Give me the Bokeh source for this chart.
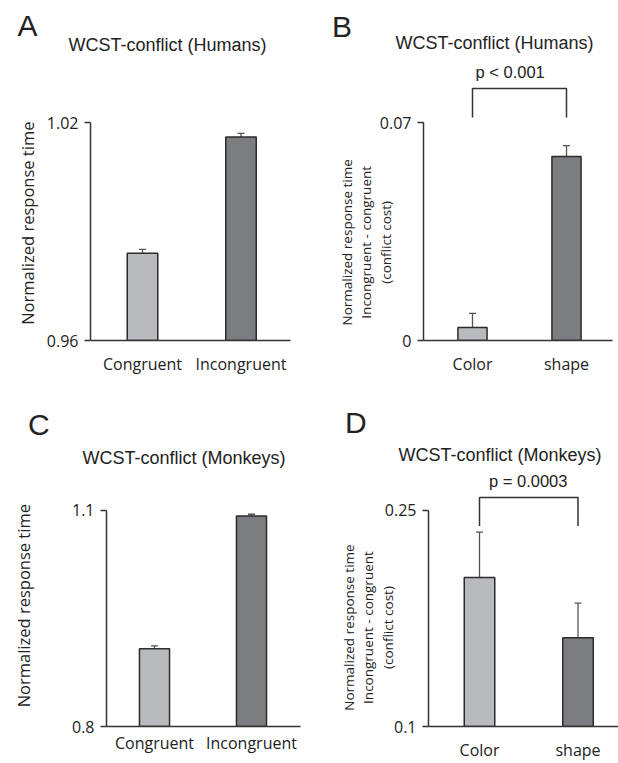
from bokeh.plotting import figure
from bokeh.layouts import row, column
from bokeh.models import Range1d, FixedTicker, Whisker, TeeHead, ColumnDataSource, Title
from bokeh.embed import file_html
from bokeh.resources import INLINE

# ---------------- data ----------------
cats_rt = ["Congruent", "Incongruent"]
cats_cost = ["Color", "shape"]

humans_rt = [0.984, 1.016]
humans_rt_err = [0.0011, 0.0010]
humans_cost = [0.0042, 0.0591]
humans_cost_err = [0.0045, 0.0035]

monkeys_rt = [0.908, 1.092]
monkeys_rt_err = [0.004, 0.0025]
monkeys_cost = [0.2034, 0.1616]
monkeys_cost_err = [0.0315, 0.024]

ticks_A = [0.96, 1.02]
tick_labels_A = ["0.96", "1.02"]
ticks_B = [0.0, 0.07]
tick_labels_B = ["0", "0.07"]
ticks_C = [0.8, 1.1]
tick_labels_C = ["0.8", "1.1"]
ticks_D = [0.1, 0.25]
tick_labels_D = ["0.1", "0.25"]

title_humans = "WCST-conflict (Humans)"
title_monkeys = "WCST-conflict (Monkeys)"
ylabel_rt = "Normalized response time"
ylabel_cost = "Normalized response time\nIncongruent - congruent\n(conflict cost)"
pval_humans = "p < 0.001"
pval_monkeys = "p = 0.0003"

BAR_COLORS = ["#b9babe", "#7c7d81"]
AX = "#333333"
TXT = "#222222"
HFAC = 1.15   # estimated text box height / font size
DFAC = 0.21   # estimated descent / font size
NBSP = "\u00a0"


def stack_title(p, text, size, left_px, baseline_px, bottom_px, L):
    """Add a Title to the 'above' panel; returns the top of its slot (page px)."""
    d = DFAC * size
    s = 2 * (bottom_px - baseline_px - d)
    p.add_layout(Title(text=text, align="left", offset=left_px - L, standoff=s,
                       vertical_align="bottom", text_font="Liberation Sans",
                       text_font_size=f"{size}px", text_font_style="normal",
                       text_color=TXT), "above")
    return bottom_px - (2 + HFAC * size + s)


def shift_label(label, n):
    """Shift a rotated axis label along the axis with non-breaking spaces."""
    pad = NBSP * abs(n)
    lines = label.split("\n")
    if n >= 0:
        return "\n".join(line + pad for line in lines)
    return "\n".join(pad + line for line in lines)


def panel(cats, vals, errs, yticks, ylabels, ylabel, title, letter, pval, lay):
    L, R, T, B = lay["frame"]
    ox, oy, W, H = lay["box"]
    c0, c1 = lay["centers"]
    yb, yt = lay["ypix"]
    u = c1 - c0
    k = (yticks[1] - yticks[0]) / (yb - yt)

    def X(px):
        return 0.5 + (px - c0) / u

    def Y(py):
        return yticks[0] + (yb - py) * k

    p = figure(width=W, height=H,
               x_range=Range1d(X(L), X(R)), y_range=Range1d(Y(B), Y(T)),
               output_backend="svg", toolbar_location=None,
               min_border_left=L - ox, min_border_right=ox + W - R,
               min_border_top=T - oy, min_border_bottom=oy + H - B)
    p.outline_line_color = None
    p.grid.visible = False

    xpos = [i + 0.5 for i in range(len(cats))]
    p.vbar(x=xpos, top=vals, bottom=yticks[0], width=0.31,
           fill_color=BAR_COLORS, line_color="#2b2b2b", line_width=1.5)

    src = ColumnDataSource(dict(x=xpos, lower=vals,
                                upper=[v + e for v, e in zip(vals, errs)]))
    p.add_layout(Whisker(source=src, base="x", lower="lower", upper="upper",
                         dimension="height", line_color="#555555", line_width=1.3,
                         upper_head=TeeHead(size=7, line_color="#555555", line_width=1.3),
                         lower_head=None))

    # axes
    for ax in p.axis:
        ax.axis_line_color = AX
        ax.axis_line_width = 1.5
        ax.major_label_text_font = "Open Sans"
        ax.major_label_text_font_size = "16px"
        ax.major_label_text_color = TXT
        ax.minor_tick_line_color = None
    p.xaxis.ticker = FixedTicker(ticks=xpos)
    p.xaxis.major_label_overrides = {x: c for x, c in zip(xpos, cats)}
    p.xaxis.major_tick_line_color = None
    p.xaxis.major_tick_out = 0
    p.xaxis.major_tick_in = 0
    p.xaxis.major_label_standoff = lay["xstand"]

    p.yaxis.ticker = FixedTicker(ticks=yticks)
    p.yaxis.major_label_overrides = dict(zip(yticks, ylabels))
    p.yaxis.bounds = (yticks[0], yticks[1])
    p.yaxis.major_tick_out = 6
    p.yaxis.major_tick_in = 0
    p.yaxis.major_tick_line_color = AX
    p.yaxis.major_tick_line_width = 1.5
    p.yaxis.major_label_standoff = 6
    p.yaxis.axis_label = shift_label(ylabel, lay["ylshift"])
    p.yaxis.axis_label_text_font = "Open Sans"
    p.yaxis.axis_label_text_font_style = "normal"
    p.yaxis.axis_label_text_font_size = lay["ylfs"]
    p.yaxis.axis_label_text_color = TXT
    p.yaxis.axis_label_text_line_height = lay["yllh"]
    p.yaxis.axis_label_standoff = lay["ylstand"]

    # bracket
    if pval is not None:
        lo, hi = lay["bracket"]
        p.line(x=[xpos[0], xpos[0], xpos[1], xpos[1]], y=[Y(lo), Y(hi), Y(hi), Y(lo)],
               line_color=AX, line_width=1.5)

    # titles stacked from the frame outward
    bottom = T
    if pval is not None:
        bottom = stack_title(p, pval, 16.5, lay["pval"][0], lay["pval"][1], bottom, L)
    else:
        bottom = stack_title(p, " ", 16.5, L, lay["spacer"], bottom, L)
    bottom = stack_title(p, title, 18, lay["title"][0], lay["title"][1], bottom, L)
    stack_title(p, letter, 30, lay["letter"][0], lay["letter"][1], bottom, L)
    return p


lay_A = dict(box=(0, 0, 310, 380), frame=(90, 290, 84, 340), centers=(142, 240.5),
             ypix=(340, 122), title=(68, 50), letter=(17, 33), spacer=77, xstand=12,
             ylfs="16.5px", yllh=1.0, ylstand=5, ylshift=5)
lay_B = dict(box=(310, 0, 308, 380), frame=(423, 612, 84, 340), centers=(472, 566),
             ypix=(340, 122), title=(395, 48), letter=(331.5, 34), xstand=12,
             ylfs="13.5px", yllh=1.08, ylstand=-18, ylshift=17,
             bracket=(117, 88), pval=(475, 77))
lay_C = dict(box=(0, 380, 310, 383), frame=(106, 300, 493, 729), centers=(154, 251),
             ypix=(729, 510), title=(82, 463), letter=(27.5, 432), spacer=486, xstand=5,
             ylfs="16.5px", yllh=1.0, ylstand=34, ylshift=-2)
lay_D = dict(box=(310, 380, 308, 383), frame=(428, 618, 493, 729), centers=(479, 577.5),
             ypix=(729, 510), title=(398, 460), letter=(344.5, 430), xstand=12,
             ylfs="13.5px", yllh=1.08, ylstand=-15, ylshift=10,
             bracket=(526, 497), pval=(488.5, 486))

pA = panel(cats_rt, humans_rt, humans_rt_err, ticks_A, tick_labels_A, ylabel_rt,
           title_humans, "A", None, lay_A)
pB = panel(cats_cost, humans_cost, humans_cost_err, ticks_B, tick_labels_B, ylabel_cost,
           title_humans, "B", pval_humans, lay_B)
pC = panel(cats_rt, monkeys_rt, monkeys_rt_err, ticks_C, tick_labels_C, ylabel_rt,
           title_monkeys, "C", None, lay_C)
pD = panel(cats_cost, monkeys_cost, monkeys_cost_err, ticks_D, tick_labels_D, ylabel_cost,
           title_monkeys, "D", pval_monkeys, lay_D)

layout = column(row(pA, pB), row(pC, pD))
open("out.html", "w").write(file_html(layout, INLINE))
